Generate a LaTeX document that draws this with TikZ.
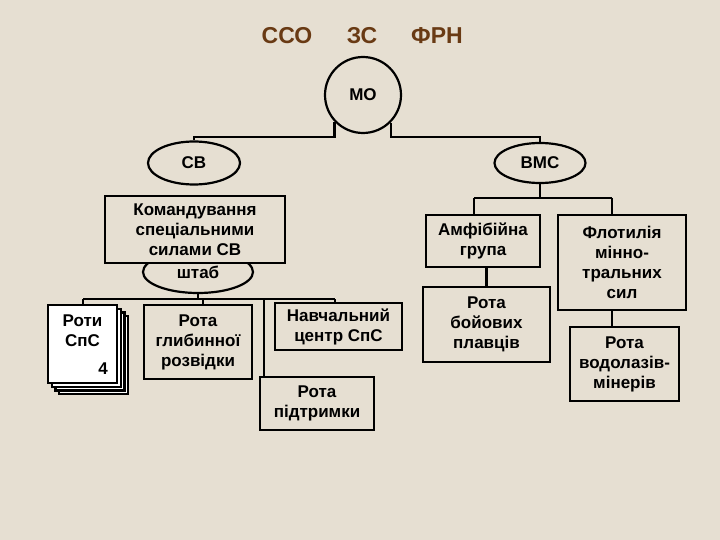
\documentclass[tikz,border=0pt]{standalone}
\usepackage{fontspec}
\setmainfont{Liberation Sans}
\usepackage{xcolor}
\usetikzlibrary{shapes.geometric}
\definecolor{paper}{RGB}{230,223,210}
\definecolor{brownlab}{RGB}{105,58,20}
\begin{document}
\begin{tikzpicture}[x=1pt, y=-1pt,
		line width=2.2pt,
		every node/.style={font=\fontsize{17}{20}\selectfont\bfseries, align=center, inner sep=0pt},
		box/.style={draw, fill=paper, rectangle},
		oval/.style={draw, fill=paper, ellipse},
		toplabel/.style={text=brownlab, font=\fontsize{23}{27}\selectfont\bfseries}]
		% Background
		\fill[paper] (0,0) rectangle (720,540);
		\useasboundingbox (0,0) rectangle (720,540);
		% Picture nodes
		%% Top labels
		\node[toplabel] (SSO) at (287,36) {ССО};
		\node[toplabel] (ZS) at (362,36) {ЗС};
		\node[toplabel] (FRN) at (437,36) {ФРН};
		%% Junction points
		\coordinate (jSV) at (194,137);
		\coordinate (jVMS) at (540,137);
		\coordinate (jAmf) at (474,198);
		\coordinate (jFlot) at (612,198);
		\coordinate (jRoty) at (83,299);
		\coordinate (jGlyb) at (203,299);
		\coordinate (jPidtr) at (264,299);
		\coordinate (jNavch) at (335,299);
		%% Shtab (under the command box)
		\node[oval, minimum width=110, minimum height=42] (shtab) at (198,272) {\raisebox{-3pt}{штаб}};
		% Picture arcs
		%% Shtab bus
		\draw (shtab.south) -- (shtab.south |- jGlyb);
		\draw (jRoty) -- (jNavch);
		\draw (jRoty) -- ++(0,8);
		\draw (jGlyb) -- ++(0,8);
		\draw (jPidtr) -- ++(0,80);
		\draw (jNavch) -- ++(0,6);
		%% Navy bus
		\draw (jAmf) -- (jFlot);
		\draw (jAmf) -- ++(0,18);
		\draw (jFlot) -- ++(0,18);
		\draw (612,300) -- (612,328);
		\draw (486.5,266) -- (486.5,288);
		%% Left side
		\node[box, minimum width=180, minimum height=67] (KSS) at (195,229.5) {Командування\\спеціальними\\силами СВ};
		\foreach \i in {3,2,1}
			\node[draw, fill=white, minimum width=69, minimum height=78] (rotyS\i) at (82.5+3.7*\i,344+3.7*\i) {};
		\node[draw, fill=white, minimum width=69, minimum height=78] (rotySpS) at (82.5,344) {};
		\node (rotyT) at (82.5,331) {Роти\\СпС};
		\node (rotyN) at (103,369) {4};
		\node[box, minimum width=108, minimum height=74] (glyb) at (198,342) {Рота\\глибинної\\розвідки};
		\node[box, minimum width=127, minimum height=47] (navch) at (338.5,326.5) {Навчальний\\центр СпС};
		\node[box, minimum width=114, minimum height=53] (pidtr) at (317,403.5) {Рота\\підтримки};
		%% Right side
		\node[box, minimum width=114, minimum height=52] (amf) at (483,241) {Амфібійна\\група};
		\node[box, minimum width=127, minimum height=75] (boi) at (486.5,324.5) {Рота\\бойових\\плавців};
		\node[box, minimum width=128, minimum height=95] (flot) at (622,262.5) {Флотилія\\мінно-\\тральних\\сил};
		\node[box, minimum width=109, minimum height=74] (vodol) at (624.5,364) {Рота\\водолазів-\\мінерів};
		%% Ovals
		\node[draw, fill=paper, circle, minimum size=76] (MO) at (363,95) {МО};
		\node[oval, minimum width=92, minimum height=43] (SV) at (194,163) {СВ};
		\node[oval, minimum width=91, minimum height=40] (VMS) at (540,163) {\raisebox{-7pt}{ВМС}};
		%% Upper arcs
		\draw (MO.-137) |- (jSV) -- (SV.north);
		\draw (MO.-45) |- (jVMS) -- (VMS.north);
		\draw (VMS.south) -- (VMS.south |- jAmf);
	\end{tikzpicture}
\end{document}
